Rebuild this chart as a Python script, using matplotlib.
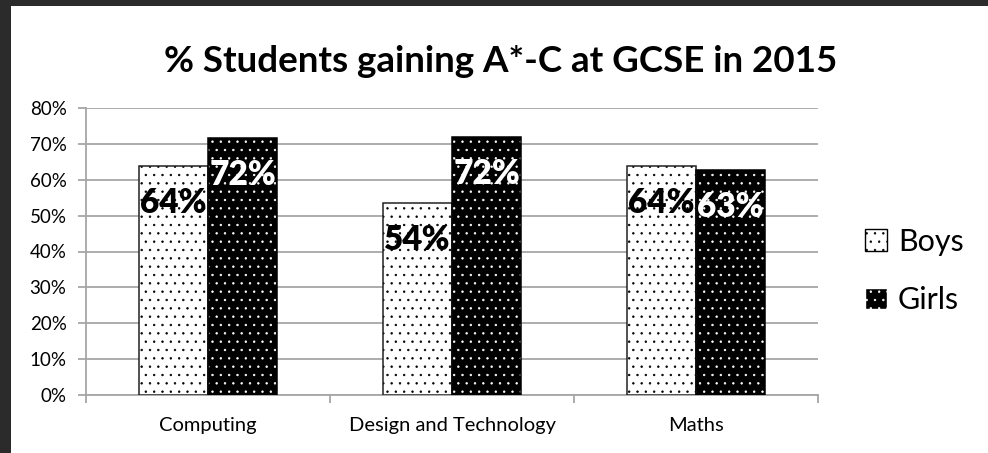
import matplotlib.pyplot as plt
import numpy as np
from matplotlib.patches import Patch, Rectangle

# Data
subjects = ['Computing', 'Design and Technology', 'Maths']
boys = [63.7, 53.6, 63.8]
girls = [71.6, 71.8, 62.6]
y_ticks = [0, 10, 20, 30, 40, 50, 60, 70, 80]

plt.rcParams['font.family'] = ['Lato', 'DejaVu Sans']
plt.rcParams['hatch.linewidth'] = 0.5

W, H = 988, 453
fig = plt.figure(figsize=(W / 100, H / 100), dpi=100)
fig.patch.set_facecolor('white')

# dark screenshot border on the left and top
fig.patches.append(Rectangle((0, 0), 11 / W, 1, transform=fig.transFigure,
                             facecolor='#2b2b2b', edgecolor='none', zorder=-5))
fig.patches.append(Rectangle((0, 1 - 6 / H), 1, 6 / H, transform=fig.transFigure,
                             facecolor='#2b2b2b', edgecolor='none', zorder=-5))

ax = fig.add_axes([86 / W, 58 / H, (818 - 86) / W, (395 - 108) / H])

x = np.arange(len(subjects))
w = 0.283
grid_col = '#a6a6a6'

# bars: hatched fill layer + outline layer
ax.bar(x - w / 2, boys, w, color='white', edgecolor='black', linewidth=0,
       hatch='..', zorder=3)
ax.bar(x + w / 2, girls, w, color='black', edgecolor='white', linewidth=0,
       hatch='..', zorder=3)
ax.bar(x - w / 2, boys, w, fill=False, edgecolor='#222222', linewidth=1.1, zorder=4)
ax.bar(x + w / 2, girls, w, fill=False, edgecolor='black', linewidth=1.1, zorder=4)

# data labels just inside the top of each bar
for xi, v in zip(x - w / 2, boys):
    ax.annotate(f'{round(v)}%', (xi, v), xytext=(0, -37), textcoords='offset pixels',
                ha='center', va='center', fontsize=24, fontweight='heavy',
                color='black', zorder=5)
for xi, v in zip(x + w / 2, girls):
    ax.annotate(f'{round(v)}%', (xi, v), xytext=(0, -37), textcoords='offset pixels',
                ha='center', va='center', fontsize=24, fontweight='heavy',
                color='white', zorder=5)

ax.set_xlim(-0.5, 2.5)
ax.set_ylim(0, 80)
ax.set_yticks(y_ticks)
ax.set_yticklabels([f'{t}%' for t in y_ticks], fontsize=13.5)
ax.yaxis.grid(True, color=grid_col, linewidth=1.3, zorder=0)
ax.set_axisbelow(True)

ax.set_xticks(x)
ax.set_xticklabels(subjects, fontsize=14.5)
ax.set_xticks([-0.5, 0.5, 1.5, 2.5], minor=True)
ax.tick_params(axis='x', which='major', length=0, pad=16)
ax.tick_params(axis='x', which='minor', length=6, color=grid_col, width=1.3)
ax.tick_params(axis='y', length=6, color=grid_col, width=1.3, pad=8)

for s in ['top', 'right']:
    ax.spines[s].set_visible(False)
for s in ['left', 'bottom']:
    ax.spines[s].set_color(grid_col)
    ax.spines[s].set_linewidth(1.3)

fig.text(501 / W, 1 - 62 / H, '% Students gaining A*-C at GCSE in 2015',
         ha='center', va='center', fontsize=26.5, fontweight='bold')

handles = [Patch(facecolor='white', edgecolor='black', hatch='..', label='Boys'),
           Patch(facecolor='black', edgecolor='white', hatch='..', label='Girls')]
fig.legend(handles=handles, loc='center left',
           bbox_to_anchor=(850 / W, 1 - 271 / H), frameon=False, fontsize=22,
           handlelength=0.72, handleheight=0.72, handletextpad=0.35,
           labelspacing=1.0, borderpad=0)

fig.savefig('out.png', dpi=100, facecolor=fig.get_facecolor())
